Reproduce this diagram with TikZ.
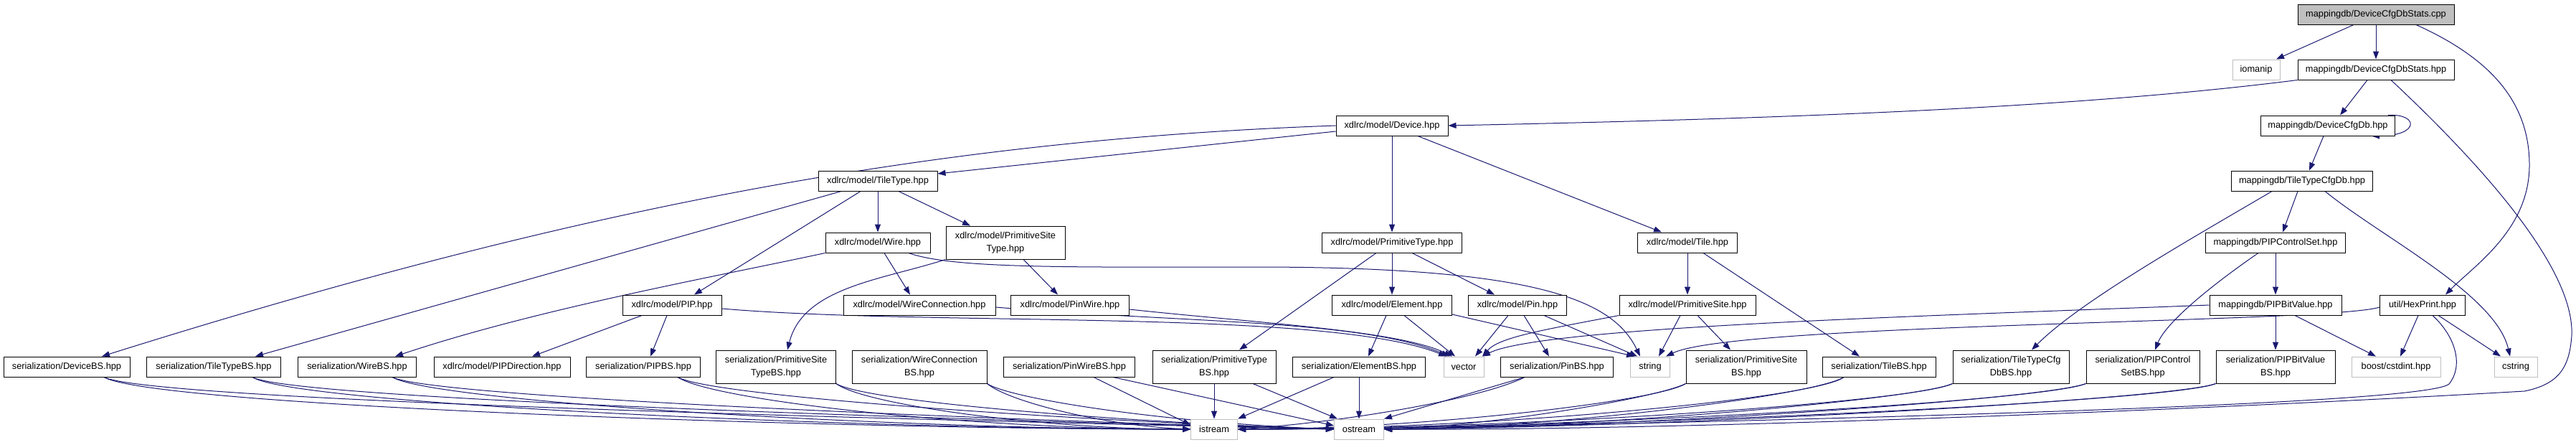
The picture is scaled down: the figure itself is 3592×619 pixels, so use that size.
\documentclass[tikz,border=0pt]{standalone}
\usepackage{fontspec}
\setmainfont{Liberation Sans}
\usetikzlibrary{arrows.meta,calc}
\definecolor{edgec}{HTML}{191970}
\definecolor{extc}{HTML}{BFBFBF}
\definecolor{cppfill}{HTML}{BFBFBF}
\pgfdeclarelayer{bg}
\pgfdeclarelayer{paper}
\pgfsetlayers{paper,bg,main}
\begin{document}
\begin{tikzpicture}[x=1pt,y=-1pt,
  box/.style={draw=black,line width=1pt,fill=white,inner sep=0pt,minimum height=28pt,align=center,font=\fontsize{12.8}{17.6}\selectfont},
  two/.style={minimum height=46pt},
  ext/.style={draw=extc},
  edge/.style={draw=edgec,line width=1pt,-{Triangle[length=11pt,width=8pt]}}]
\useasboundingbox (0,0) rectangle (3592,619);
\begin{pgfonlayer}{paper}
\fill[white] (0,0) rectangle (3592,619);
\end{pgfonlayer}
% row 1-4
\node[box,fill=cppfill,minimum width=218] (cpp) at (3313,20) {mappingdb/DeviceCfgDbStats.cpp};
\node[box,ext,minimum width=66] (iomanip) at (3146,97) {iomanip};
\node[box,minimum width=218] (dhpp) at (3313,97) {mappingdb/DeviceCfgDbStats.hpp};
\node[box,minimum width=187] (cfgdb) at (3246,175) {mappingdb/DeviceCfgDb.hpp};
\node[box,minimum width=197] (ttcfgdb) at (3210,252) {mappingdb/TileTypeCfgDb.hpp};
\node[box,minimum width=156] (device) at (1941,175) {xdlrc/model/Device.hpp};
\node[box,minimum width=166] (tiletype) at (1224,252) {xdlrc/model/TileType.hpp};
% row 5
\node[box,minimum width=146] (wire) at (1224,338) {xdlrc/model/Wire.hpp};
\node[box,two,minimum width=166] (pst) at (1402,338) {xdlrc/model/PrimitiveSite\\Type.hpp};
\node[box,minimum width=195] (ptype) at (1941,338) {xdlrc/model/PrimitiveType.hpp};
\node[box,minimum width=139] (tile) at (2353,338) {xdlrc/model/Tile.hpp};
\node[box,minimum width=195] (pcs) at (3173,338) {mappingdb/PIPControlSet.hpp};
% row 6
\node[box,minimum width=138] (pip) at (937,425) {xdlrc/model/PIP.hpp};
\node[box,minimum width=212] (wconn) at (1282,425) {xdlrc/model/WireConnection.hpp};
\node[box,minimum width=165] (pinwire) at (1492,425) {xdlrc/model/PinWire.hpp};
\node[box,minimum width=167] (element) at (1941,425) {xdlrc/model/Element.hpp};
\node[box,minimum width=137] (pin) at (2116,425) {xdlrc/model/Pin.hpp};
\node[box,minimum width=190] (psite) at (2353,425) {xdlrc/model/PrimitiveSite.hpp};
\node[box,minimum width=184] (pbv) at (3173,425) {mappingdb/PIPBitValue.hpp};
\node[box,minimum width=119] (hexprint) at (3378,425) {util/HexPrint.hpp};
% row 7
\node[box,minimum width=176] (devicebs) at (93,511) {serialization/DeviceBS.hpp};
\node[box,minimum width=187] (ttbs) at (298,511) {serialization/TileTypeBS.hpp};
\node[box,minimum width=165] (wirebs) at (498,511) {serialization/WireBS.hpp};
\node[box,minimum width=190] (pipdir) at (700,511) {xdlrc/model/PIPDirection.hpp};
\node[box,minimum width=159] (pipbs) at (897,511) {serialization/PIPBS.hpp};
\node[box,two,minimum width=167] (pstbs) at (1082,511) {serialization/PrimitiveSite\\TypeBS.hpp};
\node[box,two,minimum width=188] (wconnbs) at (1282,511) {serialization/WireConnection\\BS.hpp};
\node[box,minimum width=183] (pinwirebs) at (1491,511) {serialization/PinWireBS.hpp};
\node[box,two,minimum width=172] (ptypebs) at (1693,511) {serialization/PrimitiveType\\BS.hpp};
\node[box,minimum width=185] (elementbs) at (1895,511) {serialization/ElementBS.hpp};
\node[box,ext,minimum width=56] (vector) at (2041,511) {vector};
\node[box,minimum width=157] (pinbs) at (2171,511) {serialization/PinBS.hpp};
\node[box,ext,minimum width=55] (string) at (2301,511) {string};
\node[box,two,minimum width=168] (psitebs) at (2435,511) {serialization/PrimitiveSite\\BS.hpp};
\node[box,minimum width=158] (tilebs) at (2620,511) {serialization/TileBS.hpp};
\node[box,two,minimum width=162] (ttcfgdbbs) at (2804,511) {serialization/TileTypeCfg\\DbBS.hpp};
\node[box,two,minimum width=158] (pcsbs) at (2988,511) {serialization/PIPControl\\SetBS.hpp};
\node[box,two,minimum width=166] (pbvbs) at (3173,511) {serialization/PIPBitValue\\BS.hpp};
\node[box,ext,minimum width=124] (cstdint) at (3341,511) {boost/cstdint.hpp};
\node[box,ext,minimum width=60] (cstring) at (3508,511) {cstring};
% row 8
\node[box,ext,minimum width=65] (istream) at (1693,598) {istream};
\node[box,ext,minimum width=69] (ostream) at (1895,598) {ostream};

\begin{pgfonlayer}{bg}
% top right
\draw[edge] ([xshift=-31]cpp.south) -- ([xshift=28]iomanip.north);
\draw[edge] (cpp) -- (dhpp);
\draw[edge] ([xshift=56]cpp.south) .. controls (3470,80) and (3527,140) .. (3527,230) .. controls (3527,320) and (3450,370) .. ([xshift=32]hexprint.north);
\draw[edge] (dhpp.south west) .. controls (2900,150) and (2500,165) .. (device.east);
\draw[edge] ([xshift=-12]dhpp.south) -- ([xshift=17]cfgdb.north);
\draw[edge] ([xshift=21]dhpp.south) .. controls (3450,220) and (3590,370) .. (3586,467) .. controls (3583,510) and (3570,535) .. (3520,545) .. controls (3000,575) and (2300,600) .. (ostream.east);
\draw[edge] ([xshift=84]cfgdb.north) .. controls (3372,158) and (3375,189) .. ([xshift=61]cfgdb.south);
\draw[edge] ([xshift=-6]cfgdb.south) -- ([xshift=10]ttcfgdb.north);
\draw[edge] ([xshift=-42]ttcfgdb.south) .. controls (3060,330) and (2900,420) .. ([xshift=29]ttcfgdbbs.north);
\draw[edge] ([xshift=-6]ttcfgdb.south) -- ([xshift=10]pcs.north);
\draw[edge] ([xshift=32]ttcfgdb.south) .. controls (3320,330) and (3480,410) .. ([xshift=-8]cstring.north);
\draw[edge] ([xshift=-24]pcs.south) .. controls (3080,400) and (3020,450) .. ([xshift=17]pcsbs.north);
\draw[edge] (pcs) -- (pbv);
\draw[edge] (pbv) -- (pbvbs);
\draw[edge] ([xshift=27]pbv.south) -- ([xshift=-28]cstdint.north);
\draw[edge] (pbv.west) .. controls (2700,440) and (2150,455) .. ([xshift=26]vector.north);
\draw[edge] ([xshift=-6]hexprint.south) -- ([xshift=6]cstdint.north);
\draw[edge] ([xshift=22]hexprint.south) -- ([xshift=-21]cstring.north);
\draw[edge] ([yshift=-3]hexprint.west) .. controls (3250,450) and (2420,450) .. ([xshift=22]string.north);
\draw[edge] ([xshift=14]hexprint.south) .. controls (3425,470) and (3435,510) .. (3415,535) .. controls (3380,565) and (2500,585) .. (ostream.east);
% device subtree
\draw[edge] (device.west) .. controls (1300,195) and (800,290) .. ([xshift=49]devicebs.north);
\draw[edge] ([yshift=-8]device.west) -- ([yshift=10]tiletype.east);
\draw[edge] (device) -- (ptype);
\draw[edge] ([xshift=36]device.south) -- ([xshift=-36]tile.north);
\draw[edge] ([xshift=-51]tiletype.south) -- ([xshift=58]ttbs.north);
\draw[edge] ([xshift=-24]tiletype.south) -- ([xshift=31]pip.north);
\draw[edge] (tiletype) -- (wire);
\draw[edge] ([xshift=29]tiletype.south) -- ([xshift=-49]pst.north);
\draw[edge] (wire.south west) .. controls (1000,385) and (750,430) .. ([xshift=53]wirebs.north);
\draw[edge] ([xshift=9]wire.south) -- ([xshift=-13]wconn.north);
\draw[edge] ([xshift=43]wire.south) .. controls (1330,375) and (1500,372) .. (1750,372) .. controls (2150,372) and (2250,420) .. ([xshift=-14]string.north);
\draw[edge] ([xshift=25]pst.south) -- ([xshift=-17]pinwire.north);
\draw[edge] (pst.south west) .. controls (1230,390) and (1120,400) .. ([xshift=16]pstbs.north);
\draw[edge] ([xshift=-42]pip.south) -- ([xshift=42]pipdir.north);
\draw[edge] ([xshift=-7]pip.south) -- ([xshift=10]pipbs.north);
\draw[edge] ([yshift=-5]pip.east) .. controls (1300,455) and (1850,430) .. ([xshift=-24]vector.north);
\draw[edge] ([yshift=-3]wconn.east) .. controls (1650,450) and (1900,445) .. ([xshift=-20]vector.north);
\draw[edge] ([yshift=-6]pinwire.east) .. controls (1750,450) and (1950,460) .. ([xshift=-16]vector.north);
\draw[edge] ([xshift=-22]ptype.south) -- ([xshift=35]ptypebs.north);
\draw[edge] (ptype) -- (element);
\draw[edge] ([xshift=28]ptype.south) -- ([xshift=-32]pin.north);
\draw[edge] ([xshift=-8]element.south) -- ([xshift=13]elementbs.north);
\draw[edge] ([xshift=17]element.south) -- ([xshift=-12]vector.north);
\draw[edge] ([yshift=-13]element.east) -- ([xshift=-22]string.north);
\draw[edge] ([xshift=-13]pin.south) -- ([xshift=16]vector.north);
\draw[edge] ([xshift=9]pin.south) -- ([xshift=-11]pinbs.north);
\draw[edge] ([xshift=37]pin.south) -- ([xshift=-18]string.north);
\draw[edge] (tile) -- (psite);
\draw[edge] ([xshift=22]tile.south) -- ([xshift=-27]tilebs.north);
\draw[edge] (psite.south west) .. controls (2150,460) and (2090,470) .. ([xshift=26]vector.north);
\draw[edge] ([xshift=-10]psite.south) -- ([xshift=12]string.north);
\draw[edge] ([xshift=14]psite.south) -- ([xshift=-22]psitebs.north);
% bottom: left side
\draw[edge] ([xshift=52]devicebs.south) .. controls +(70,40) and +(-500,0) .. (istream.west);
\draw[edge] ([xshift=52]devicebs.south) .. controls +(70,35) and +(-450,-10) .. (ostream.west);
\draw[edge] ([xshift=54]ttbs.south) .. controls +(60,38) and +(-450,0) .. (istream.west);
\draw[edge] ([xshift=54]ttbs.south) .. controls +(60,33) and +(-400,-10) .. (ostream.west);
\draw[edge] ([xshift=49]wirebs.south) .. controls +(60,35) and +(-400,0) .. (istream.west);
\draw[edge] ([xshift=49]wirebs.south) .. controls +(60,30) and +(-380,-10) .. (ostream.west);
\draw[edge] ([xshift=48]pipbs.south) .. controls +(50,33) and +(-300,0) .. (istream.west);
\draw[edge] ([xshift=48]pipbs.south) .. controls +(50,28) and +(-330,-10) .. (ostream.west);
\draw[edge] (pstbs.south east) .. controls +(40,30) and +(-200,0) .. (istream.west);
\draw[edge] (pstbs.south east) .. controls +(40,25) and +(-300,-10) .. (ostream.west);
\draw[edge] (wconnbs.south east) .. controls +(30,25) and +(-120,-5) .. (istream.west);
\draw[edge] (wconnbs.south east) .. controls +(30,20) and +(-250,-10) .. (ostream.west);
\draw[edge] ([xshift=34]pinwirebs.south) -- ([yshift=6]istream.west);
\draw[edge] ([xshift=61]pinwirebs.south) -- ([yshift=5]ostream.west);
\draw[edge] (ptypebs) -- (istream);
\draw[edge] ([xshift=54]ptypebs.south) -- ([xshift=-30]ostream.north);
\draw[edge] ([xshift=-35]elementbs.south) -- (istream.north east);
\draw[edge] (elementbs) -- (ostream);
% bottom: right side
\draw[edge] ([xshift=-45]pinbs.south) .. controls +(-60,30) and +(150,-10) .. (istream.east);
\draw[edge] ([xshift=-45]pinbs.south) -- (ostream.north east);
\draw[edge] (psitebs.south west) .. controls +(-40,25) and +(250,0) .. (istream.east);
\draw[edge] (psitebs.south west) .. controls +(-40,20) and +(150,-5) .. (ostream.east);
\draw[edge] ([xshift=-49]tilebs.south) .. controls +(-40,30) and +(350,0) .. (istream.east);
\draw[edge] ([xshift=-49]tilebs.south) .. controls +(-40,25) and +(250,-3) .. (ostream.east);
\draw[edge] (ttcfgdbbs.south west) .. controls +(-50,25) and +(400,0) .. (istream.east);
\draw[edge] (ttcfgdbbs.south west) .. controls +(-50,22) and +(300,-3) .. (ostream.east);
\draw[edge] (pcsbs.south west) .. controls +(-60,25) and +(450,0) .. (istream.east);
\draw[edge] (pcsbs.south west) .. controls +(-60,22) and +(350,-3) .. (ostream.east);
\draw[edge] (pbvbs.south west) .. controls +(-60,25) and +(500,0) .. (istream.east);
\draw[edge] (pbvbs.south west) .. controls +(-60,22) and +(400,-3) .. (ostream.east);
\end{pgfonlayer}
\end{tikzpicture}
\end{document}
